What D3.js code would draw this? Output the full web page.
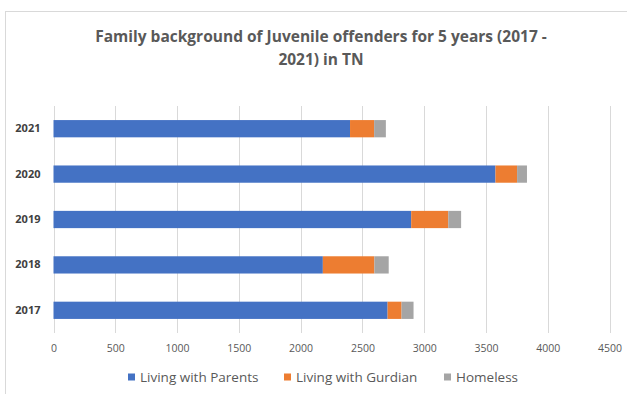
<!DOCTYPE html>
<html>
<head>
<meta charset="utf-8">
<script src="https://cdn.jsdelivr.net/npm/d3@7"></script>
<style>
  html, body { margin: 0; padding: 0; background: #fff; }
  svg { display: block; }
</style>
</head>
<body>
<svg id="chart" width="627" height="394"></svg>
<script>
// Years shown top to bottom, newest first
const years = ["2021", "2020", "2019", "2018", "2017"];
const seriesNames = ["Living with Parents", "Living with Gurdian", "Homeless"];
const livingWithParents = [2400, 3577, 2895, 2180, 2704];
const livingWithGurdian = [195, 175, 300, 417, 113];
const homeless = [95, 80, 104, 116, 97];
const xTicks = [0, 500, 1000, 1500, 2000, 2500, 3000, 3500, 4000, 4500];
const colors = ["#4472C4", "#ED7D31", "#A5A5A5"];

const rows = years.map((y, i) => ({
  year: y,
  "Living with Parents": livingWithParents[i],
  "Living with Gurdian": livingWithGurdian[i],
  "Homeless": homeless[i]
}));

const svg = d3.select("#chart");
const font = "'Open Sans', 'Liberation Sans', sans-serif";

// Outer chart frame
svg.append("rect")
  .attr("x", 5.5).attr("y", 11.5)
  .attr("width", 640).attr("height", 400)
  .attr("fill", "#fff")
  .attr("stroke", "#d9d9d9").attr("stroke-width", 1);

// Title
const title = svg.append("text")
  .attr("text-anchor", "middle")
  .attr("font-family", font)
  .attr("font-weight", "bold")
  .attr("font-size", 15.5)
  .attr("fill", "#595959");
title.append("tspan").attr("x", 321).attr("y", 42)
  .text("Family background of Juvenile offenders for 5 years (2017 -");
title.append("tspan").attr("x", 321).attr("y", 65)
  .text("2021) in TN");

const plot = { left: 53.5, right: 609.5, top: 106, bottom: 333 };

const x = d3.scaleLinear().domain([0, 4500]).range([plot.left, plot.right]);
const y = d3.scaleBand().domain(years).range([plot.top, plot.bottom]).paddingInner(0.62).paddingOuter(0.31);

// Vertical gridlines
svg.append("g")
  .selectAll("line")
  .data(xTicks)
  .join("line")
  .attr("x1", d => Math.round(x(d)) + 0.5)
  .attr("x2", d => Math.round(x(d)) + 0.5)
  .attr("y1", plot.top)
  .attr("y2", plot.bottom)
  .attr("stroke", "#d9d9d9")
  .attr("stroke-width", 1);

// Stacked bars
const stack = d3.stack().keys(seriesNames);
const stacked = stack(rows);

svg.append("g")
  .selectAll("g")
  .data(stacked)
  .join("g")
  .attr("fill", (d, i) => colors[i])
  .selectAll("rect")
  .data(d => d)
  .join("rect")
  .attr("x", d => x(d[0]))
  .attr("width", d => x(d[1]) - x(d[0]))
  .attr("y", d => y(d.data.year))
  .attr("height", y.bandwidth());

// X axis labels
const xAxis = d3.axisBottom(x).tickValues(xTicks).tickFormat(d3.format("d")).tickSize(0).tickPadding(12);
const gx = svg.append("g")
  .attr("transform", `translate(0,${plot.bottom})`)
  .call(xAxis);
gx.select(".domain").remove();
gx.selectAll("text")
  .attr("font-family", font)
  .attr("font-size", 10.5)
  .attr("fill", "#595959");

// Y axis labels
const yAxis = d3.axisLeft(y).tickSize(0).tickPadding(13);
const gy = svg.append("g")
  .attr("transform", `translate(${plot.left},0)`)
  .call(yAxis);
gy.select(".domain").remove();
gy.selectAll("text")
  .attr("font-family", font)
  .attr("font-size", 11)
  .attr("font-weight", "bold")
  .attr("fill", "#404040");

// Legend
const legendX = [128, 284, 444];
const legend = svg.append("g")
  .selectAll("g")
  .data(seriesNames)
  .join("g")
  .attr("transform", (d, i) => `translate(${legendX[i]},377)`);
legend.append("rect")
  .attr("x", 0).attr("y", -3.5)
  .attr("width", 7).attr("height", 7)
  .attr("fill", (d, i) => colors[i]);
legend.append("text")
  .attr("x", 12).attr("y", 0)
  .attr("dy", "0.35em")
  .attr("font-family", font)
  .attr("font-size", 13.5)
  .attr("fill", "#595959")
  .text(d => d);
</script>
</body>
</html>
